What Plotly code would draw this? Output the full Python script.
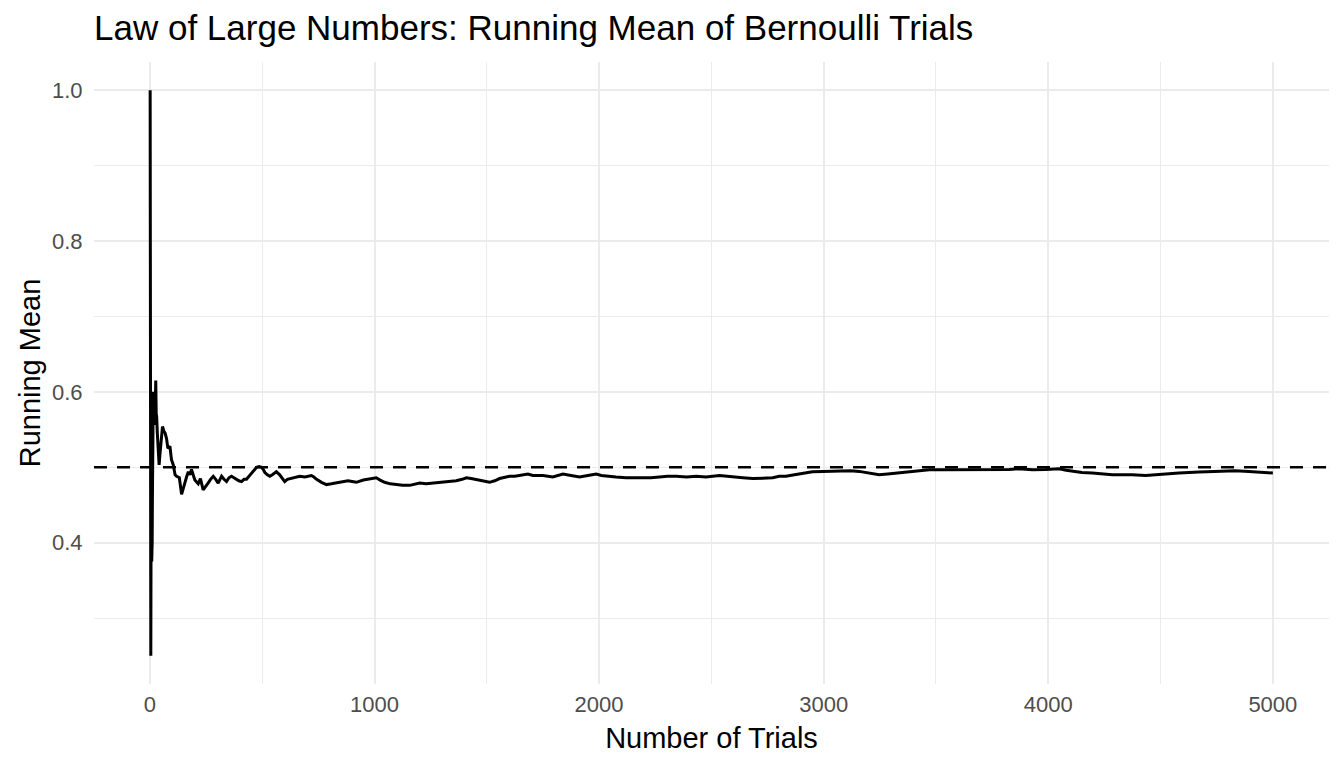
import plotly.graph_objects as go

trials = [1, 2, 3, 4, 5, 6, 7, 8, 9, 10, 11, 12, 13, 14, 15, 16, 17, 18, 19, 20,
          22, 24, 26, 28, 30, 33, 36, 39, 41, 44, 48, 52, 56, 62, 68, 74, 80, 89, 96,
          104, 112, 119, 131, 141, 148, 156, 164, 171, 178, 185, 193, 200, 215, 225,
          237, 248, 259, 270, 282, 293, 304, 312, 319, 330, 341, 352, 363, 374, 385,
          396, 408, 419, 430, 441, 452, 463, 475, 486, 497, 505, 512, 523, 534, 545,
          556, 563, 578, 600, 612, 623, 645, 667, 690, 719, 730, 742, 764, 786, 808,
          830, 856, 882, 900, 919, 950, 979, 1008, 1025, 1045, 1070, 1097, 1125, 1157,
          1180, 1201, 1230, 1260, 1285, 1305, 1335, 1364, 1390, 1409, 1430, 1453, 1480,
          1512, 1535, 1557, 1580, 1601, 1625, 1646, 1683, 1705, 1750, 1794, 1839, 1875,
          1913, 1950, 1987, 2010, 2032, 2075, 2120, 2160, 2195, 2230, 2269, 2305, 2343,
          2390, 2432, 2476, 2536, 2565, 2595, 2640, 2684, 2730, 2773, 2802, 2832, 2870,
          2906, 2950, 2995, 3040, 3084, 3120, 3158, 3200, 3247, 3285, 3322, 3360, 3396,
          3430, 3470, 3529, 3618, 3680, 3722, 3780, 3826, 3870, 3929, 3989, 4048, 4080,
          4107, 4150, 4196, 4240, 4285, 4330, 4374, 4434, 4470, 4508, 4582, 4671, 4760,
          4834, 4893, 4950, 5000]

# Running mean at those trials
running_mean = [1.0, 0.5, 0.333, 0.25, 0.4, 0.5, 0.429, 0.375, 0.444, 0.4, 0.455, 0.5,
                0.538, 0.571, 0.6, 0.563, 0.588, 0.556, 0.579, 0.6,
                0.591, 0.583, 0.615, 0.571, 0.567, 0.545, 0.528, 0.513, 0.503, 0.515,
                0.531, 0.544, 0.554, 0.548, 0.545, 0.538, 0.525, 0.528, 0.51,
                0.503, 0.49, 0.488, 0.486, 0.464, 0.472, 0.481, 0.488, 0.494, 0.49, 0.497,
                0.49, 0.483, 0.478, 0.485,
                0.470, 0.474, 0.479, 0.484, 0.488, 0.484, 0.479, 0.484, 0.488, 0.484,
                0.481, 0.486, 0.488, 0.486, 0.484,
                0.482, 0.481, 0.484, 0.484, 0.488, 0.492, 0.496, 0.500, 0.501, 0.500,
                0.497, 0.493, 0.490, 0.488, 0.490,
                0.492, 0.494, 0.490, 0.481, 0.484, 0.485, 0.487, 0.488, 0.487, 0.489,
                0.487, 0.484, 0.480, 0.477, 0.478,
                0.479, 0.480, 0.482, 0.481, 0.480, 0.483, 0.485, 0.486, 0.483, 0.480,
                0.478, 0.477, 0.476, 0.476,
                0.478, 0.479, 0.478, 0.479, 0.480, 0.481, 0.481, 0.482, 0.484, 0.486,
                0.485, 0.484, 0.482,
                0.480, 0.482, 0.485, 0.487, 0.488, 0.488, 0.489, 0.491, 0.489, 0.489,
                0.487, 0.491, 0.489,
                0.487, 0.489, 0.491, 0.489, 0.488, 0.487, 0.486, 0.486, 0.485, 0.486,
                0.487, 0.488, 0.488,
                0.487, 0.488, 0.487, 0.489, 0.488, 0.487, 0.486, 0.485, 0.486, 0.486,
                0.488, 0.488, 0.490,
                0.492, 0.494, 0.4945, 0.495, 0.496, 0.4955, 0.4945, 0.492, 0.490, 0.491,
                0.492, 0.493, 0.494,
                0.495, 0.4967, 0.4967, 0.4967, 0.4965, 0.497, 0.4965, 0.497, 0.498,
                0.4967, 0.497, 0.498, 0.496,
                0.4945, 0.493, 0.4924, 0.491, 0.490, 0.490, 0.490, 0.489, 0.490, 0.491,
                0.4924, 0.4937, 0.4945,
                0.4953, 0.4945, 0.493, 0.4924]

expected_value = 0.5
x_ticks = [0, 1000, 2000, 3000, 4000, 5000]
y_ticks = [0.4, 0.6, 0.8, 1.0]
y_tick_labels = ["0.4", "0.6", "0.8", "1.0"]

title_text = "Law of Large Numbers: Running Mean of Bernoulli Trials"
x_title = "Number of Trials"
y_title = "Running Mean"

FONT = "Liberation Sans, Arial, Helvetica, sans-serif"

# figure is drawn inside the page's default 8px body margin
W, H = 1336, 760

fig = go.Figure()
fig.add_trace(go.Scatter(
    x=trials, y=running_mean, mode="lines",
    line=dict(color="black", width=3),
    showlegend=False, hoverinfo="x+y",
))
fig.add_hline(y=expected_value, line=dict(color="black", width=2.5, dash="13px,10px"))

grid = "#EBEBEB"
fig.update_layout(
    width=W, height=H,
    margin=dict(l=86, r=15, t=54, b=84),
    paper_bgcolor="white", plot_bgcolor="white",
    font=dict(family=FONT, color="black"),
    title=dict(text=title_text, x=0, xref="paper", xanchor="left",
               y=1 - 20 / H, yref="container", yanchor="middle",
               font=dict(size=35, color="black")),
    xaxis=dict(
        range=[-249, 5250], tickvals=x_ticks, ticktext=[str(v) for v in x_ticks],
        showgrid=True, gridcolor=grid, gridwidth=2,
        minor=dict(dtick=500, tick0=500, showgrid=True, gridcolor=grid, gridwidth=1),
        zeroline=False, showline=False,
        ticks="outside", ticklen=1, tickcolor="rgba(0,0,0,0)",
        tickfont=dict(size=22, color="#4D4D4D"),
        title=dict(text=x_title, font=dict(size=29, color="black"), standoff=11),
    ),
    yaxis=dict(
        range=[0.2125, 1.0375], tickvals=y_ticks, ticktext=y_tick_labels,
        showgrid=True, gridcolor=grid, gridwidth=2,
        minor=dict(tickvals=[0.3, 0.5, 0.7, 0.9], showgrid=True, gridcolor=grid, gridwidth=1),
        zeroline=False, showline=False,
        ticks="outside", ticklen=6, tickcolor="rgba(0,0,0,0)",
        tickfont=dict(size=22, color="#4D4D4D"),
        title=dict(text=y_title, font=dict(size=29, color="black"), standoff=2),
    ),
)

fig.write_html("out.html")
